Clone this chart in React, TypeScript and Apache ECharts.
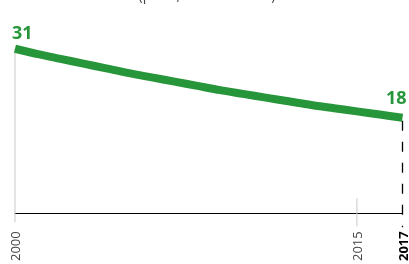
import React, { useEffect, useRef } from "react";
import * as echarts from "echarts";

const years = ["2000","2001","2002","2003","2004","2005","2006","2007","2008","2009","2010","2011","2012","2013","2014","2015","2016","2017"];
const rates = [31, 30, 29.1, 28.2, 27.3, 26.4, 25.6, 24.8, 24.0, 23.2, 22.5, 21.8, 21.1, 20.4, 19.8, 19.2, 18.6, 18.0];
const shownYears = ["2000", "2015", "2017"];
const subtitle = "(per 1,000 live births)";

const GREEN = "#27963a";
const FONT = "'Open Sans', sans-serif";

export default function App() {
  const ref = useRef<HTMLDivElement>(null);
  useEffect(() => {
    const chart = echarts.init(ref.current!, null, { renderer: "svg" });
    const last = rates.length - 1;
    chart.setOption({
      animation: false,
      grid: { left: 15, right: 5, top: 1, bottom: 50 },
      xAxis: {
        type: "category",
        data: years,
        boundaryGap: false,
        axisLine: { lineStyle: { color: "#000", width: 1 } },
        axisTick: { show: false },
        axisLabel: {
          interval: 0,
          rotate: 90,
          margin: 18,
          formatter: (v: string) =>
            v === "2017" ? `{b|${v}}` : shownYears.includes(v) ? `{n|${v}}` : "",
          rich: {
            n: { fontSize: 13, color: "#444", fontFamily: FONT },
            b: { fontSize: 13, color: "#000", fontWeight: "bold", fontFamily: FONT },
          },
        },
      },
      yAxis: { type: "value", min: 0, max: 40, show: false },
      series: [
        {
          type: "line",
          data: rates,
          smooth: 0.3,
          symbol: "none",
          lineStyle: { color: GREEN, width: 8, cap: "butt" },
          z: 5,
        },
      ],
    });

    const px = (i: number, v: number) => chart.convertToPixel({ gridIndex: 0 }, [i, v]) as number[];
    const i2015 = years.indexOf("2015");
    const p0 = px(0, rates[0]);
    const a0 = px(0, 0);
    const p15 = px(i2015, 0);
    const pLast = px(last, rates[last]);
    const aLast = px(last, 0);
    const valStyle = { fontSize: 18, fontWeight: "bold", fill: GREEN, fontFamily: FONT, textVerticalAlign: "middle" };
    chart.setOption({
      graphic: [
        { type: "text", x: 207, y: -13, style: { text: subtitle, fontSize: 14, fill: "#444", fontFamily: FONT, textAlign: "center", textVerticalAlign: "top" } },
        { type: "line", z: 1, shape: { x1: p0[0], y1: p0[1], x2: a0[0], y2: a0[1] + 9 }, style: { stroke: "#c8c8c8", lineWidth: 1 } },
        { type: "line", z: 1, shape: { x1: p15[0], y1: p15[1] - 15, x2: p15[0], y2: p15[1] + 13 }, style: { stroke: "#c8c8c8", lineWidth: 1 } },
        { type: "line", z: 1, shape: { x1: pLast[0], y1: pLast[1] + 3, x2: aLast[0], y2: aLast[1] + 14 }, style: { stroke: "#000", lineWidth: 1.3, lineDash: [10, 11] } },
        { type: "text", z: 10, x: p0[0] - 3, y: p0[1] - 17, style: { ...valStyle, text: String(Math.round(rates[0])), textAlign: "left" } },
        { type: "text", z: 10, x: pLast[0] + 4, y: pLast[1] - 21, style: { ...valStyle, text: String(Math.round(rates[last])), textAlign: "right" } },
      ],
    });
    return () => chart.dispose();
  }, []);
  return <div ref={ref} style={{ position: "fixed", left: 0, top: 0, width: 409, height: 264 }} />;
}
